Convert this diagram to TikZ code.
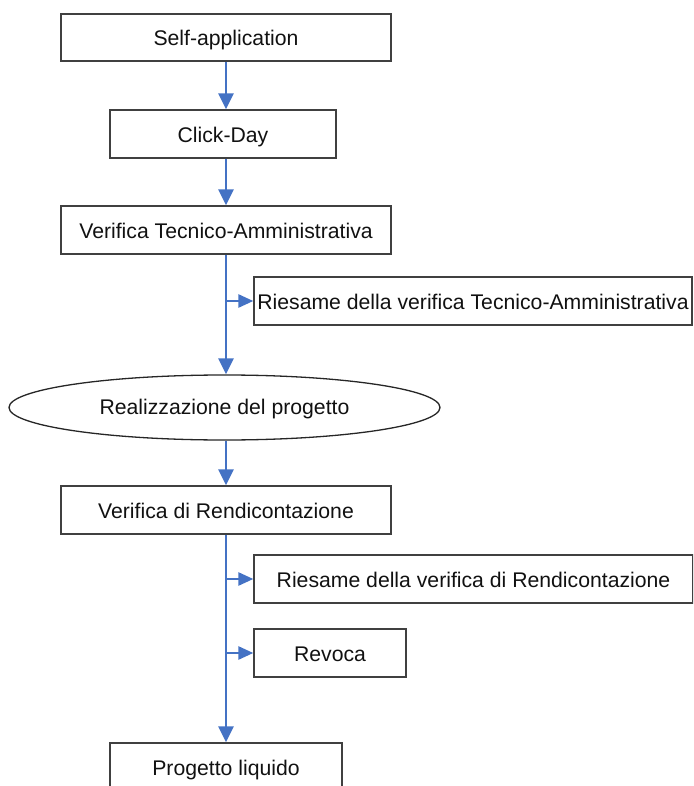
\documentclass[tikz,border=0pt]{standalone}
\usepackage{fontspec}
\setmainfont{Liberation Sans}
\usetikzlibrary{arrows.meta,shapes.geometric}
\definecolor{flowblue}{HTML}{4472C4}
\definecolor{boxgray}{HTML}{404040}
\definecolor{txt}{HTML}{111111}
\begin{document}
\begin{tikzpicture}[x=1pt,y=-1pt,
  every node/.style={font=\fontsize{21.2}{25}\selectfont, text=txt, inner sep=0pt},
  stepbox/.style={draw=boxgray, line width=1.3pt, rectangle, minimum height=48pt, text height=17pt, text depth=0pt},
  ovalbox/.style={draw=black!85, line width=1.3pt, ellipse, minimum width=431pt, minimum height=65pt, text height=13pt, text depth=0pt},
  flow/.style={draw=flowblue, line width=2.6pt, -{Triangle[length=16pt,width=15pt]}},
  branch/.style={draw=flowblue, line width=2.6pt, -{Triangle[length=15pt,width=13pt]}}
]
\useasboundingbox (0,0) rectangle (693,786);
\clip (0,0) rectangle (693,786);
\node[stepbox, minimum width=330pt, minimum height=47pt] (s1) at (226,37.5) {Self-application};
\node[stepbox, minimum width=226pt] (s2) at (223,134) {Click-Day};
\node[stepbox, minimum width=330pt] (s3) at (226,230) {Verifica Tecnico-Amministrativa};
\node[stepbox, minimum width=438pt] (r1) at (473,301) {Riesame della verifica Tecnico-Amministrativa};
\node[ovalbox] (el) at (224.5,407.5) {Realizzazione del progetto};
\node[stepbox, minimum width=330pt] (s4) at (226,510) {Verifica di Rendicontazione};
\node[stepbox, minimum width=439pt] (r2) at (473.5,579) {Riesame della verifica di Rendicontazione};
\node[stepbox, minimum width=152pt] (rv) at (330,653) {Revoca};
\node[stepbox, minimum width=232pt] (pl) at (226,767) {Progetto liquido};

\coordinate (b1) at (s3.south |- r1.west);
\coordinate (b2) at (s4.south |- r2.west);
\coordinate (b3) at (s4.south |- rv.west);

\draw[flow] (s1.south) -- (s1.south |- s2.north);
\draw[flow] (s1.south |- s2.south) -- (s1.south |- s3.north);
\draw[flow] (s3.south) -- (s3.south |- el.north);
\draw[branch] (b1) -- (r1.west);
\draw[flow] (s3.south |- el.south) -- (s4.north);
\draw[flow] (s4.south) -- (pl.north);
\draw[branch] (b2) -- (r2.west);
\draw[branch] (b3) -- (rv.west);
\end{tikzpicture}
\end{document}
